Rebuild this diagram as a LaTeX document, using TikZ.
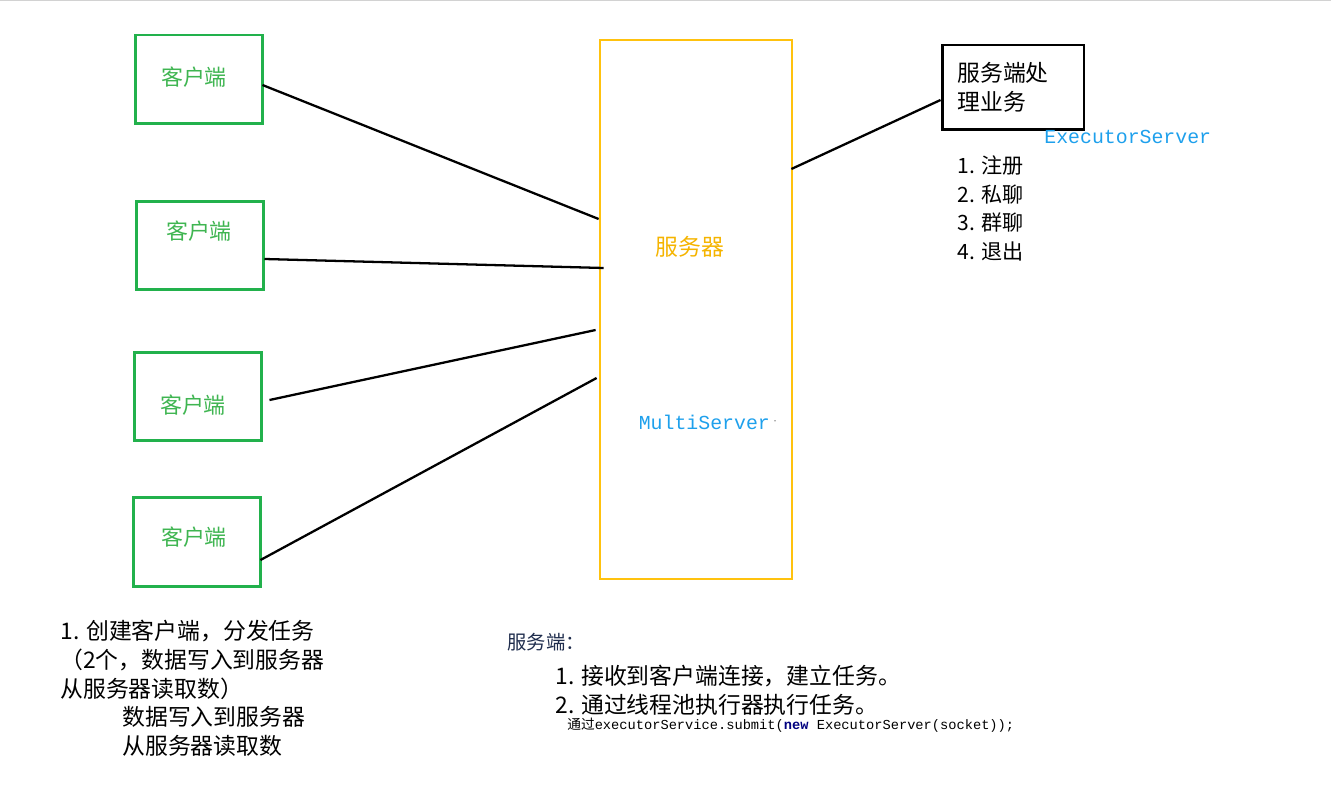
\documentclass[tikz,border=0pt]{standalone}
\usepackage{fontspec}
\setmainfont{Noto Sans CJK SC}
\setmonofont{Liberation Mono}
\newfontfamily\cjk{Noto Sans CJK SC}
\usetikzlibrary{calc}
\definecolor{clientgreen}{HTML}{22B14C}
\definecolor{clienttxt}{HTML}{3FB551}
\definecolor{serveryellow}{HTML}{FFC20E}
\definecolor{servertxt}{HTML}{F5B400}
\definecolor{codeblue}{HTML}{1EA0EC}
\definecolor{kwblue}{HTML}{00007F}
\definecolor{notedark}{HTML}{1F2D4D}
\begin{document}
\begin{tikzpicture}[x=0.02cm,y=-0.02cm,
	client/.style={draw=clientgreen,line width=1.7pt,minimum width=2.56cm,minimum height=1.78cm,inner sep=0pt},
	clientlabel/.style={text=clienttxt,font=\fontsize{12.5}{15}\selectfont,inner sep=0pt},
	note/.style={anchor=west,align=left,inner sep=0pt,font=\fontsize{13}{16.4}\selectfont},
	mono/.style={text=codeblue,inner sep=0pt,font=\ttfamily\fontsize{11.3}{13}\selectfont},
	link/.style={line width=1.3pt}]
	\useasboundingbox (0,0) rectangle (1331,800);
	\draw[gray!35,line width=0.6pt] (0,0.5) -- (1331,0.5);
	% clients
	\node[client] (c1) at (199,79.5) {};
	\node[client] (c2) at (200,245.5) {};
	\node[client] (c3) at (198,396.5) {};
	\node[client] (c4) at (197,542) {};
	\node[clientlabel] (t1) at (194,77) {客户端};
	\node[clientlabel] (t2) at (199,231) {客户端};
	\node[clientlabel] (t3) at (193,405) {客户端};
	\node[clientlabel] (t4) at (194,537) {客户端};
	% server
	\node[draw=serveryellow,line width=1.6pt,minimum width=3.84cm,minimum height=10.78cm,inner sep=0pt] (srv) at (696,309.5) {};
	\node[text=servertxt,inner sep=0pt,font=\fontsize{13}{16}\selectfont] (srvname) at (690,247) {服务器};
	\node[mono] (multi) at (708,422) {MultiServer\,\textcolor{black}{\raisebox{0.5ex}{\tiny$\cdot$}}};
	% business box
	\node[draw,line width=1.7pt,minimum width=2.84cm,minimum height=1.70cm,inner sep=0pt] (biz) at (1013,87.5) {};
	\node[note] (biztxt) at (957,87.5) {服务端处\\理业务};
	\node[mono,anchor=west] (exec) at (1044,137) {ExecutorServer};
	\node[note,font=\fontsize{12}{16.4}\selectfont] (ops) at (957,208.5) {1. 注册\\2. 私聊\\3. 群聊\\4. 退出};
	% connectors
	\draw[link] ($(c1.east)+(-2,5.5)$) -- ($(srv.west)+(0,-90.5)$);
	\draw[link] ($(c2.east)+(-1,13.5)$) -- ($(srv.west)+(5,-41.5)$);
	\draw[link] ($(c3.east)+(6,3.5)$) -- ($(srv.west)+(-3,20.5)$);
	\draw[link] ($(c4.east)+(-2,18)$) -- ($(srv.west)+(-2,68.5)$);
	\draw[link] ($(srv.east)+(-2,-140.5)$) -- ($(biz.west)+(0,12.5)$);
	% notes below
	\node[note] (cnote) at (60,660) {1. 创建客户端，分发任务\\（2个，数据写入到服务器\\从服务器读取数）};
	\node[note] (cnote2) at (122,731.5) {数据写入到服务器\\从服务器读取数};
	\node[note,text=notedark,font=\fontsize{11}{14}\selectfont] (snote) at (507,642) {服务端：};
	\node[note] (snote2) at (555,690) {1. 接收到客户端连接，建立任务。\\2. 通过线程池执行器执行任务。};
	\node[note,font=\fontsize{7.8}{10}\selectfont] (code) at (567,725) {通过\texttt{executorService.submit(\textcolor{kwblue}{\textbf{new}} ExecutorServer(socket));}};
\end{tikzpicture}
\end{document}
